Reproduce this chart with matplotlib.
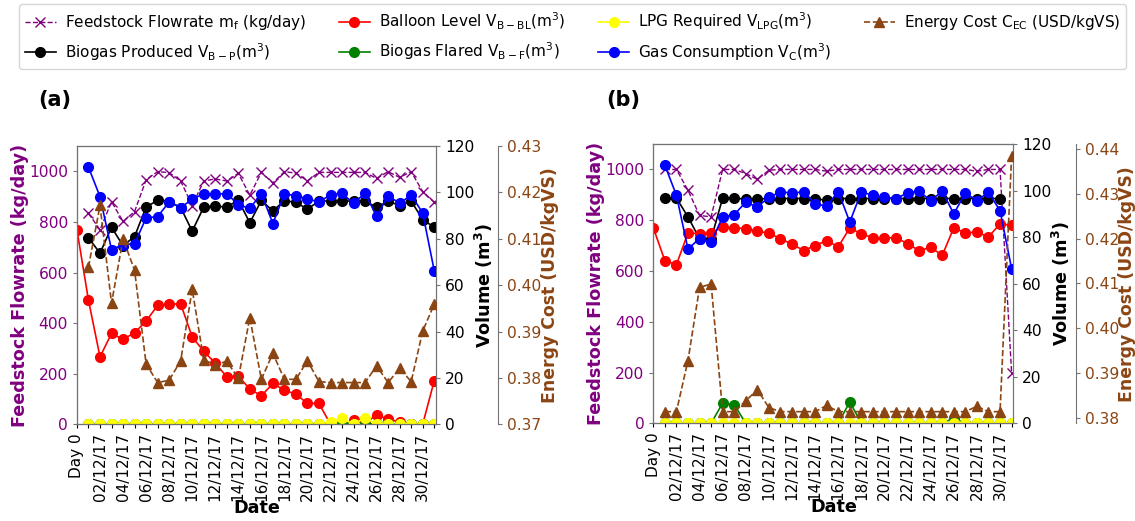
import numpy as np
import matplotlib.pyplot as plt
from matplotlib.lines import Line2D

plt.rcParams['mathtext.default'] = 'regular'

nan = np.nan
PURPLE = '#800080'
BROWN = '#8B4513'

days = list(range(32))
xlabels = ['Day 0', '', '02/12/17', '', '04/12/17', '', '06/12/17', '', '08/12/17', '',
           '10/12/17', '', '12/12/17', '', '14/12/17', '', '16/12/17', '', '18/12/17', '',
           '20/12/17', '', '22/12/17', '', '24/12/17', '', '26/12/17', '', '28/12/17', '',
           '30/12/17', '']

# ---- panel (a) ----
feed_a = [nan, 834, 769, 880, 802, 841, 967, 999, 995, 962, 865, 962, 970, 962, 992, 906,
          996, 954, 999, 993, 963, 996, 996, 996, 996, 996, 972, 999, 976, 999, 920, 878]
prod_a = [nan, 80.5, 73.8, 85.0, 77.0, 81.0, 93.7, 96.6, 96.0, 93.5, 83.3, 93.7, 94.1, 93.7, 96.7, 86.9,
          96.6, 92.0, 96.5, 95.7, 92.8, 96.3, 96.3, 96.3, 96.3, 96.3, 93.6, 96.3, 94.3, 96.3, 88.3, 85.0]
balloon_a = [83.9, 53.5, 29.1, 39.2, 36.6, 39.5, 44.5, 51.3, 51.9, 51.9, 37.7, 31.5, 26.4, 20.5, 20.8, 15.2,
             12.3, 17.6, 14.7, 13.0, 9.0, 9.0, 0.0, 0.0, 1.8, 0.5, 4.0, 2.2, 1.0, 0.0, 0.0, 18.8]
flared_a = [nan, 0, 0, 0, 0, 0, 0, 0, 0, 0, 0, 0, 0, 0, 0, 0,
            0, 0, 0, 0, 0, 0, 0, 0, 0, 0, 0, 0, 0, 0, 0, 0]
lpg_a = [nan, 0, 0, 0, 0, 0, 0, 0, 0, 0, 0, 0, 0, 0, 0, 0,
         0, 0, 0, 0, 0, 0, 1.1, 2.6, 0, 2.9, 0, 0, 0, 0, 0, 0]
cons_a = [nan, 110.9, 98.2, 75.3, 77.5, 77.9, 89.0, 89.6, 95.9, 93.5, 97.0, 99.5, 99.3, 99.5, 94.7, 93.1,
          99.5, 86.6, 99.4, 98.6, 97.1, 96.0, 98.9, 99.6, 95.3, 99.7, 89.7, 98.6, 95.3, 98.9, 91.1, 66.3]
cost_a = [nan, 0.4039, 0.4172, 0.3961, 0.4100, 0.4032, 0.3830, 0.3790, 0.3795, 0.3837, 0.3991, 0.3839,
          0.3828, 0.3836, 0.3799, 0.3930, 0.3797, 0.3853, 0.3797, 0.3797, 0.3837, 0.3792, 0.3790,
          0.3790, 0.3790, 0.3790, 0.3826, 0.3790, 0.3821, 0.3792, 0.3901, 0.3959]

# ---- panel (b) ----
feed_b = [nan, 1000, 1000, 918, 819, 813, 1000, 1000, 984, 961, 997, 1000, 1000, 1000, 1000, 993,
          1000, 1000, 1000, 1000, 1000, 1000, 1000, 1000, 1000, 1000, 1000, 1000, 993, 1000, 1000, 200]
prod_b = [nan, 96.8, 96.8, 88.7, 79.3, 79.2, 96.8, 96.8, 96.3, 96.5, 96.5, 96.6, 96.6, 96.6, 96.6, 95.8,
          96.6, 96.6, 96.6, 96.6, 96.6, 96.6, 96.6, 96.6, 96.6, 96.6, 96.6, 96.6, 96.6, 96.6, 96.6, nan]
balloon_b = [84.0, 69.9, 68.2, 81.8, 81.5, 81.8, 84.2, 84.0, 83.7, 82.5, 81.8, 79.2, 77.1, 74.2, 76.4, 78.5,
             75.8, 84.0, 81.4, 79.7, 79.7, 79.7, 77.2, 74.2, 75.6, 72.2, 84.0, 81.8, 82.2, 80.1, 85.7, 85.1]
flared_b = [nan, 0, 0, 0, 0, 0, 8.7, 8.0, 0, 0, 0, 0, 0, 0, 0, 0,
            0, 9.2, 0, 0, 0, 0, 0, 0, 0, 0, 2.3, 0, 0, 0, 0, 0]
lpg_b = [nan, 0, 0, 0, 0, 0, 0, 0, 0, 0, 0, 0, 0, 0, 0, 0,
         0, 0, 0, 0, 0, 0, 0, 0, 0, 0, 0, 0, 0, 0, 0, 0]
cons_b = [nan, 110.9, 98.0, 74.9, 79.4, 77.9, 88.7, 89.7, 95.0, 93.0, 97.1, 99.4, 99.0, 99.4, 94.4, 93.3,
          99.6, 86.5, 99.4, 98.0, 97.1, 96.6, 99.0, 99.7, 95.7, 99.7, 90.0, 99.0, 95.7, 99.3, 91.4, 66.5]
cost_b = [nan, 0.3814, 0.3814, 0.3928, 0.4091, 0.4099, 0.3814, 0.3814, 0.3838, 0.3863, 0.3823, 0.3814,
          0.3814, 0.3814, 0.3814, 0.3828, 0.3814, 0.3814, 0.3814, 0.3814, 0.3814, 0.3814, 0.3814,
          0.3814, 0.3814, 0.3814, 0.3814, 0.3814, 0.3826, 0.3814, 0.3814, 0.4384]

fig = plt.figure(figsize=(11.35, 5.21), dpi=100)

TICK = 11.2
LAB = 12.7
spine_col = '0.45'


def panel(rect, feed, prod, balloon, flared, lpg, cons, cost, cost_lim, cost_ticks):
    ax = fig.add_axes(rect)
    axv = ax.twinx()
    axc = ax.twinx()
    axc.spines['right'].set_position(('axes', 1.173))

    ax.plot(days, feed, '--', color=PURPLE, marker='x', ms=7, mew=1, lw=1)
    axv.plot(days, prod, '-', color='black', marker='o', ms=7, lw=1.2)
    axv.plot(days, balloon, '-', color='red', marker='o', ms=7, lw=1.2)
    axv.plot(days, flared, '-', color='green', marker='o', ms=7, lw=1.2)
    axv.plot(days, lpg, '-', color='yellow', marker='o', ms=7, lw=1.2)
    axv.plot(days, cons, '-', color='blue', marker='o', ms=7, lw=1.2)
    axc.plot(days, cost, '--', color=BROWN, marker='^', ms=6.5, lw=1.2)

    ax.set_xlim(0, 31.15)
    ax.set_ylim(0, 1100)
    axv.set_ylim(0, 120)
    axc.set_ylim(*cost_lim)
    ax.set_yticks([0, 200, 400, 600, 800, 1000])
    axv.set_yticks([0, 20, 40, 60, 80, 100, 120])
    axc.set_yticks(cost_ticks)
    axc.set_yticklabels(['%.2f' % t for t in cost_ticks])

    ax.set_xticks(days)
    ax.set_xticklabels(xlabels, rotation=90)
    ax.tick_params(axis='x', labelsize=11, length=3, colors='black')
    ax.tick_params(axis='y', labelsize=TICK, labelcolor=PURPLE, length=3, color=spine_col)
    axv.tick_params(axis='y', labelsize=TICK, labelcolor='black', length=3, color=spine_col)
    axc.tick_params(axis='y', labelsize=TICK, labelcolor=BROWN, length=3, color=spine_col)

    for a in (ax, axv, axc):
        for s in a.spines.values():
            s.set_color(spine_col)

    ax.set_xlabel('Date', fontsize=LAB, fontweight='bold', labelpad=-2)
    ax.set_ylabel('Feedstock Flowrate (kg/day)', fontsize=LAB, fontweight='bold', color=PURPLE,
                  labelpad=0)
    axv.set_ylabel(r'Volume ($m^3$)', fontsize=LAB, fontweight='bold', labelpad=-1)
    axc.set_ylabel('Energy Cost (USD/kgVS)', fontsize=12.4, fontweight='bold', color=BROWN,
                   labelpad=-0.5)
    return ax


panel([0.0678, 0.1856, 0.3163, 0.534], feed_a, prod_a, balloon_a, flared_a, lpg_a, cons_a, cost_a,
      (0.37, 0.43), [0.37, 0.38, 0.39, 0.40, 0.41, 0.42, 0.43])
panel([0.5756, 0.1875, 0.3172, 0.536], feed_b, prod_b, balloon_b, flared_b, lpg_b, cons_b, cost_b,
      (0.3788, 0.4411), [0.38, 0.39, 0.40, 0.41, 0.42, 0.43, 0.44])

fig.text(0.034, 0.808, '(a)', fontsize=15, fontweight='bold', va='center')
fig.text(0.534, 0.808, '(b)', fontsize=15, fontweight='bold', va='center')

handles = [
    Line2D([], [], ls='--', color=PURPLE, marker='x', ms=7, lw=1),
    Line2D([], [], ls='-', color='black', marker='o', ms=7, lw=1.2),
    Line2D([], [], ls='-', color='red', marker='o', ms=7, lw=1.2),
    Line2D([], [], ls='-', color='green', marker='o', ms=7, lw=1.2),
    Line2D([], [], ls='-', color='yellow', marker='o', ms=7, lw=1.2),
    Line2D([], [], ls='-', color='blue', marker='o', ms=7, lw=1.2),
    Line2D([], [], ls='--', color=BROWN, marker='^', ms=6.5, lw=1.2),
]
labels = [
    r'Feedstock Flowrate m$_f$ (kg/day)',
    r'Biogas Produced V$_{B-P}$(m$^3$)',
    r'Balloon Level V$_{B-BL}$(m$^3$)',
    r'Biogas Flared V$_{B-F}$(m$^3$)',
    r'LPG Required V$_{LPG}$(m$^3$)',
    r'Gas Consumption V$_C$(m$^3$)',
    r'Energy Cost C$_{EC}$ (USD/kgVS)',
]
fig.legend(handles, labels, loc='lower left', ncol=4, mode='expand',
           bbox_to_anchor=(0.014, 0.862, 0.981, 0.13), fontsize=11,
           handlelength=2, handletextpad=0.6, borderaxespad=0.2, labelspacing=0.6)

fig.savefig('out.png', dpi=100)
